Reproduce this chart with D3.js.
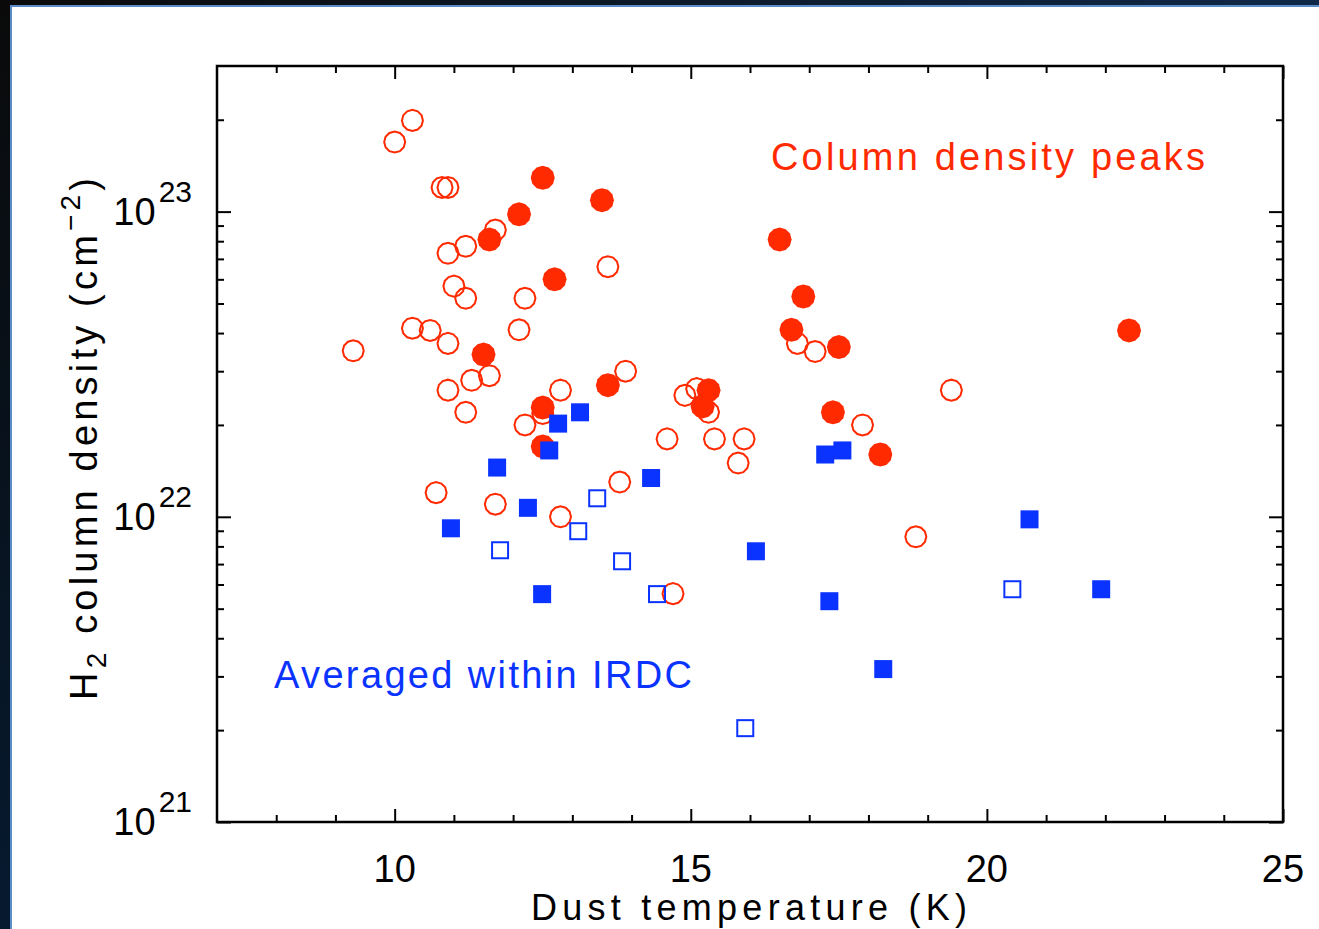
<!DOCTYPE html>
<meta charset="utf-8">
<style>
body {
  margin: 0;
  background: #fff;
}
text {
  font-family: "Liberation Sans", Arial, sans-serif;
}
.axis path {
  display: none;
}
.axis line {
  stroke: #000;
  stroke-width: 2;
}
</style>
<svg width="1319" height="929"></svg>
<script src="https://d3js.org/d3.v7.min.js"></script>
<script>

// Column density peaks, open circles (T in K, N in 1e22 cm^-2)
var peakOpenT = [9.3, 10.0, 10.3, 10.8, 10.9, 10.9, 11.2, 11.7, 11.0, 11.2,
  10.3, 10.6, 10.9, 12.1, 12.2, 10.9, 11.3, 11.6, 11.2, 12.2,
  12.8, 10.7, 11.7, 12.8, 13.6, 13.9, 13.8, 14.6, 14.7, 14.9,
  15.1, 15.3, 15.4, 15.9, 15.8, 16.8, 17.1, 17.9, 18.8, 19.4, 12.5];
var peakOpenN = [3.5, 16.9, 19.9, 12.0, 12.0, 7.3, 7.7, 8.7, 5.7, 5.2,
  4.15, 4.08, 3.7, 4.1, 5.2, 2.6, 2.8, 2.9, 2.2, 2.0,
  2.6, 1.2, 1.1, 1.0, 6.6, 3.0, 1.3, 1.8, 0.56, 2.5,
  2.63, 2.2, 1.8, 1.8, 1.5, 3.7, 3.48, 2.0, 0.86, 2.6, 2.18];

// Column density peaks, filled circles
var peakFillT = [12.5, 13.5, 12.1, 11.6, 12.7, 16.5, 16.9, 16.7, 17.5,
  22.4, 11.5, 13.6, 15.3, 15.2, 12.5, 12.5, 17.4, 18.2];
var peakFillN = [12.9, 10.9, 9.8, 8.1, 6.0, 8.1, 5.27, 4.1, 3.6,
  4.08, 3.4, 2.7, 2.6, 2.3, 2.28, 1.7, 2.2, 1.6];

// Averaged within IRDC, open squares
var irdcOpenT = [11.78, 13.1, 13.42, 13.84, 14.43, 15.92, 20.43];
var irdcOpenN = [0.777, 0.897, 1.15, 0.715, 0.558, 0.203, 0.579];

// Averaged within IRDC, filled squares
var irdcFillT = [12.76, 13.13, 12.61, 11.73, 12.25, 10.95, 12.49, 14.33,
  16.1, 17.27, 17.56, 17.34, 18.25, 20.72, 21.93];
var irdcFillN = [2.02, 2.2, 1.65, 1.45, 1.07, 0.917, 0.558, 1.34,
  0.771, 1.6, 1.65, 0.529, 0.317, 0.981, 0.579];

var xMajor = [10, 15, 20, 25];
var xMinor = [8, 9, 11, 12, 13, 14, 16, 17, 18, 19, 21, 22, 23, 24];
var yMajor = [1e21, 1e22, 1e23];
var yMajorExp = ["21", "22", "23"];
var yMinor = [2e21, 3e21, 4e21, 5e21, 6e21, 7e21, 8e21, 9e21,
  2e22, 3e22, 4e22, 5e22, 6e22, 7e22, 8e22, 9e22, 2e23];

var red = "#ff2a00";
var blue = "#0b33ff";

var svg = d3.select("svg");
var width = +svg.attr("width"),
    height = +svg.attr("height");

var pL = 217, pR = 1283, pT = 66, pB = 822;

var x = d3.scaleLinear().domain([7, 25]).range([pL, pR]);
var y = d3.scaleLog().domain([1e21, 3e23]).range([pB, pT]);

// dark window frame
var defs = svg.append("defs");
var gv = defs.append("linearGradient").attr("id", "gv")
  .attr("x1", 0).attr("y1", 0).attr("x2", 0).attr("y2", 1);
gv.append("stop").attr("offset", 0).attr("stop-color", "#0a0a0a");
gv.append("stop").attr("offset", 1).attr("stop-color", "#061a30");
var gh = defs.append("linearGradient").attr("id", "gh")
  .attr("x1", 0).attr("y1", 0).attr("x2", 1).attr("y2", 0);
gh.append("stop").attr("offset", 0).attr("stop-color", "#0a0a0a");
gh.append("stop").attr("offset", 1).attr("stop-color", "#0f2848");

svg.append("rect").attr("x", 0).attr("y", 0).attr("width", 10).attr("height", height).attr("fill", "url(#gv)");
svg.append("rect").attr("x", 10).attr("y", 0).attr("width", width - 10).attr("height", 5).attr("fill", "url(#gh)");
svg.append("rect").attr("x", 10).attr("y", 5).attr("width", 2).attr("height", height - 5).attr("fill", "#5a8dc8");
svg.append("rect").attr("x", 10).attr("y", 5).attr("width", width - 10).attr("height", 2).attr("fill", "#5a8dc8");

// ticks, all pointing inward
function ticks(axis, vals, len, tx, ty) {
  svg.append("g").attr("class", "axis")
    .attr("transform", "translate(" + tx + "," + ty + ")")
    .call(axis.tickValues(vals).tickSizeInner(-len).tickSizeOuter(0).tickFormat(""));
}
ticks(d3.axisBottom(x), xMajor, 13, 0, pB);
ticks(d3.axisBottom(x), xMinor, 7, 0, pB);
ticks(d3.axisTop(x), xMajor, 13, 0, pT);
ticks(d3.axisTop(x), xMinor, 7, 0, pT);
ticks(d3.axisLeft(y), yMajor, 14, pL, 0);
ticks(d3.axisLeft(y), yMinor, 7, pL, 0);
ticks(d3.axisRight(y), yMajor, 14, pR, 0);
ticks(d3.axisRight(y), yMinor, 7, pR, 0);

svg.append("rect")
  .attr("x", pL).attr("y", pT)
  .attr("width", pR - pL).attr("height", pB - pT)
  .attr("fill", "none").attr("stroke", "#000").attr("stroke-width", 2.5);

// x tick labels
svg.selectAll(".xlab").data(xMajor).enter().append("text")
  .attr("class", "xlab")
  .attr("x", function(d) { return x(d); })
  .attr("y", pB + 60)
  .attr("text-anchor", "middle")
  .attr("font-size", 38)
  .text(function(d) { return d; });

// y tick labels 10^n
var ylab = svg.selectAll(".ylab").data(yMajor).enter().append("text")
  .attr("class", "ylab")
  .attr("x", 192)
  .attr("y", function(d) { return y(d) + 13; })
  .attr("text-anchor", "end")
  .attr("font-size", 38);
ylab.append("tspan").text("10");
ylab.append("tspan").attr("dx", 3).attr("dy", -23).attr("font-size", 30)
  .text(function(d, i) { return yMajorExp[i]; });

// axis titles
svg.append("text")
  .attr("x", 531).attr("y", 920)
  .attr("font-size", 36)
  .attr("textLength", 436).attr("lengthAdjust", "spacing")
  .text("Dust temperature (K)");

var yt = svg.append("text")
  .attr("transform", "translate(97,700) rotate(-90)")
  .attr("font-size", 38)
  .attr("textLength", 522).attr("lengthAdjust", "spacing");
yt.append("tspan").text("H");
yt.append("tspan").attr("dy", 9).attr("font-size", 28).text("2");
yt.append("tspan").attr("dy", -9).text(" column density (cm");
yt.append("tspan").attr("dy", -17).attr("font-size", 28).text("\u22122");
yt.append("tspan").attr("dy", 17).text(")");

// annotations
svg.append("text")
  .attr("x", 771).attr("y", 170)
  .attr("font-size", 38).attr("fill", red)
  .attr("textLength", 434).attr("lengthAdjust", "spacing")
  .text("Column density peaks");
svg.append("text")
  .attr("x", 274).attr("y", 688)
  .attr("font-size", 38).attr("fill", blue)
  .attr("textLength", 418).attr("lengthAdjust", "spacing")
  .text("Averaged within IRDC");

// markers
function zip(a, b) { return a.map(function(v, i) { return [v, b[i]]; }); }

var poly = d3.line().curve(d3.curveLinearClosed);
function ngon(r) {
  return poly(d3.range(12).map(function(i) {
    var a = i / 12 * 2 * Math.PI;
    return [r * Math.cos(a), r * Math.sin(a)];
  }));
}

var g = svg.append("g");

g.selectAll(".po").data(zip(peakOpenT, peakOpenN)).enter().append("path")
  .attr("transform", function(d) { return "translate(" + x(d[0]) + "," + y(d[1] * 1e22) + ")"; })
  .attr("d", ngon(10.5))
  .attr("fill", "none").attr("stroke", red).attr("stroke-width", 2);

g.selectAll(".pf").data(zip(peakFillT, peakFillN)).enter().append("path")
  .attr("transform", function(d) { return "translate(" + x(d[0]) + "," + y(d[1] * 1e22) + ")"; })
  .attr("d", ngon(12))
  .attr("fill", red);

g.selectAll(".io").data(zip(irdcOpenT, irdcOpenN)).enter().append("rect")
  .attr("x", function(d) { return x(d[0]) - 8; })
  .attr("y", function(d) { return y(d[1] * 1e22) - 8; })
  .attr("width", 16).attr("height", 16)
  .attr("fill", "none").attr("stroke", blue).attr("stroke-width", 2);

g.selectAll(".if").data(zip(irdcFillT, irdcFillN)).enter().append("rect")
  .attr("x", function(d) { return x(d[0]) - 9; })
  .attr("y", function(d) { return y(d[1] * 1e22) - 9; })
  .attr("width", 18).attr("height", 18)
  .attr("fill", blue);

</script>
